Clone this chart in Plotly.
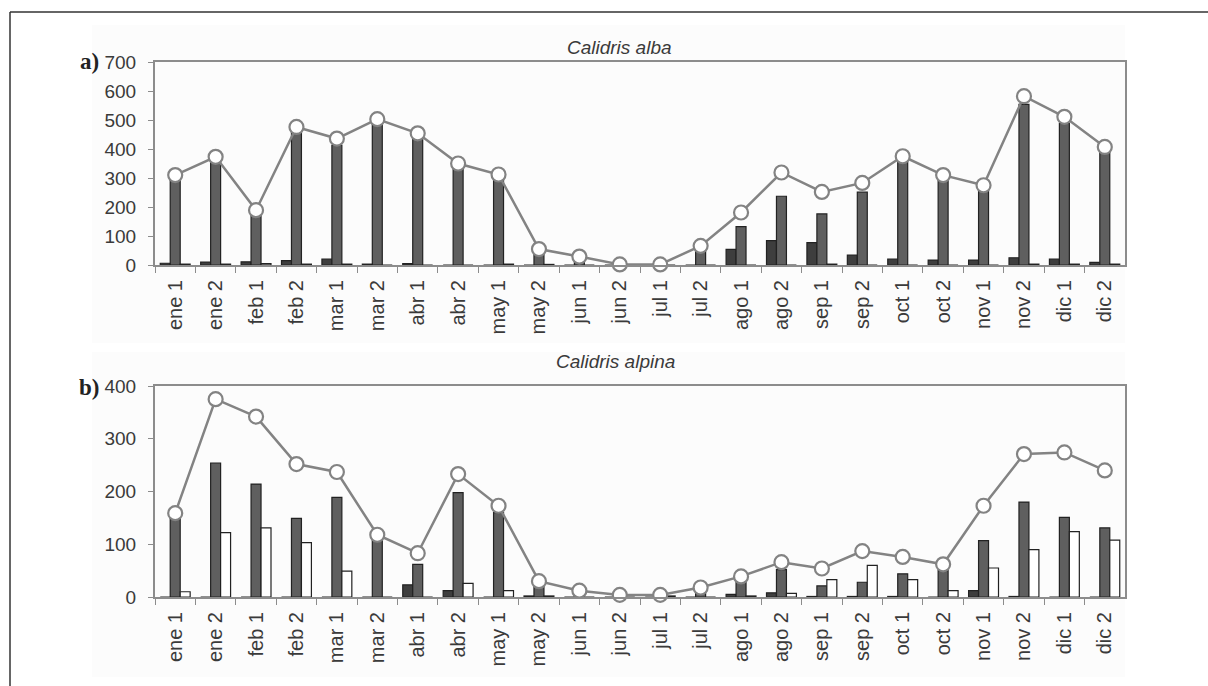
import plotly.graph_objects as go

W, H = 1208, 686

periods = ["ene 1", "ene 2", "feb 1", "feb 2", "mar 1", "mar 2", "abr 1", "abr 2",
           "may 1", "may 2", "jun 1", "jun 2", "jul 1", "jul 2", "ago 1", "ago 2",
           "sep 1", "sep 2", "oct 1", "oct 2", "nov 1", "nov 2", "dic 1", "dic 2"]

# a) Calidris alba
alba_dark = [6, 10, 11, 15, 20, 3, 5, 0, 0, 0, 0, 0, 0, 0, 54, 84, 77, 34, 20, 17, 17, 25, 20, 9]
alba_mid = [301, 360, 173, 458, 413, 500, 449, 350, 309, 50, 27, 0, 0, 64, 132, 237, 176, 251,
            355, 293, 258, 554, 488, 395]
alba_white = [3, 3, 5, 3, 3, 0, 0, 0, 3, 2, 0, 0, 0, 0, 0, 0, 3, 0, 0, 0, 0, 3, 3, 3]
alba_total = [310, 373, 189, 476, 436, 503, 454, 350, 312, 55, 29, 2, 2, 66, 181, 319, 252, 283,
              375, 310, 275, 582, 511, 407]
alba_ticks = [0, 100, 200, 300, 400, 500, 600, 700]

# b) Calidris alpina
alpina_dark = [0, 0, 0, 0, 0, 0, 23, 12, 0, 2, 0, 0, 0, 0, 5, 8, 1, 1, 1, 0, 12, 1, 0, 0]
alpina_mid = [149, 254, 214, 149, 189, 116, 62, 198, 160, 25, 10, 3, 2, 15, 32, 52, 21, 28,
              44, 50, 107, 180, 151, 131]
alpina_white = [10, 122, 131, 103, 49, 0, 0, 26, 12, 2, 0, 0, 2, 0, 2, 7, 33, 60, 33, 12,
                55, 90, 124, 108]
alpina_total = [159, 375, 342, 252, 237, 118, 83, 233, 173, 30, 12, 4, 4, 18, 39, 66, 54, 87,
                76, 62, 173, 271, 274, 240]
alpina_ticks = [0, 100, 200, 300, 400]

DARK = "#3e3e3e"
MID = "#5f5f5f"
EDGE = "#222222"
LINE = "#838383"
AXIS = "#8c8c8c"
TXT = "#3a3a3a"
FONT = "Liberation Sans"


def px_x(x):
    return x / W


def px_y(y):
    return 1 - y / H


fig = go.Figure()


def add_panel(xa, ya, dark, mid, white, total):
    for vals, col, grp in ((dark, DARK, "d"), (mid, MID, "m"), (white, "#ffffff", "w")):
        fig.add_trace(go.Bar(
            x=periods, y=vals, xaxis=xa, yaxis=ya, offsetgroup=grp,
            marker=dict(color=col, line=dict(color=EDGE, width=1.2)),
            showlegend=False, hoverinfo="y",
        ))
    fig.add_trace(go.Scatter(
        x=periods, y=total, xaxis=xa, yaxis=ya, mode="lines+markers",
        line=dict(color=LINE, width=2.5),
        marker=dict(symbol="circle", size=14, color="#ffffff",
                    line=dict(color=LINE, width=2.2)),
        cliponaxis=False, showlegend=False,
    ))


add_panel("x", "y", alba_dark, alba_mid, alba_white, alba_total)
add_panel("x2", "y2", alpina_dark, alpina_mid, alpina_white, alpina_total)

xdom = [px_x(155), px_x(1125)]

xcommon = dict(
    domain=xdom, type="category", categoryorder="array", categoryarray=periods,
    range=[-0.5, len(periods) - 0.5], autorange=False,
    tickangle=-90, tickfont=dict(family=FONT, size=20, color=TXT), ticklabelstandoff=5,
    ticks="outside", tickson="boundaries", ticklen=6, tickcolor=AXIS, tickwidth=1,
    showline=True, linecolor=AXIS, linewidth=2, mirror=True,
    showgrid=False, zeroline=False, automargin=False, fixedrange=True,
)
ycommon = dict(
    tickfont=dict(family=FONT, size=19, color=TXT),
    ticks="outside", ticklen=5, tickcolor=AXIS, tickwidth=1, ticklabelstandoff=8,
    showline=True, linecolor=AXIS, linewidth=2, mirror=True,
    showgrid=False, zeroline=False, automargin=False, fixedrange=True,
)

fig.update_layout(
    width=W, height=H,
    margin=dict(l=0, r=0, t=0, b=0),
    paper_bgcolor="#ffffff",
    plot_bgcolor="#efefef",
    barmode="group", bargap=0.26, bargroupgap=0,
    xaxis=dict(xcommon, anchor="y"),
    xaxis2=dict(xcommon, anchor="y2"),
    yaxis=dict(ycommon, domain=[px_y(265), px_y(62)], range=[0, 700],
               tickvals=alba_ticks, anchor="x"),
    yaxis2=dict(ycommon, domain=[px_y(597), px_y(386)], range=[0, 400],
                tickvals=alpina_ticks, anchor="x2"),
    shapes=[
        # faint backing panels behind each chart
        dict(type="rect", xref="paper", yref="paper", layer="below",
             x0=px_x(92), x1=px_x(1125), y0=px_y(343), y1=px_y(25),
             fillcolor="#fcfcfc", line=dict(width=0)),
        dict(type="rect", xref="paper", yref="paper", layer="below",
             x0=px_x(92), x1=px_x(1125), y0=px_y(677), y1=px_y(352),
             fillcolor="#fcfcfc", line=dict(width=0)),
        # outer frame (top and left edges)
        dict(type="line", xref="paper", yref="paper",
             x0=px_x(10), x1=1, y0=px_y(12), y1=px_y(12),
             line=dict(color="#333333", width=1.5)),
        dict(type="line", xref="paper", yref="paper",
             x0=px_x(10), x1=px_x(10), y0=px_y(12), y1=0,
             line=dict(color="#333333", width=1.5)),
    ],
    annotations=[
        dict(text="<i>Calidris alba</i>", xref="paper", yref="paper",
             x=px_x(619), y=px_y(35), showarrow=False,
             font=dict(family=FONT, size=19, color=TXT)),
        dict(text="<i>Calidris alpina</i>", xref="paper", yref="paper",
             x=px_x(615), y=px_y(361), showarrow=False,
             font=dict(family=FONT, size=19, color=TXT)),
        dict(text="<b>a)</b>", xref="paper", yref="paper",
             x=px_x(89), y=px_y(62), xanchor="center", yanchor="middle", showarrow=False,
             font=dict(family="Liberation Serif", size=23, color="#222222")),
        dict(text="<b>b)</b>", xref="paper", yref="paper",
             x=px_x(89), y=px_y(387), xanchor="center", yanchor="middle", showarrow=False,
             font=dict(family="Liberation Serif", size=23, color="#222222")),
    ],
)

fig.write_html("out.html")
